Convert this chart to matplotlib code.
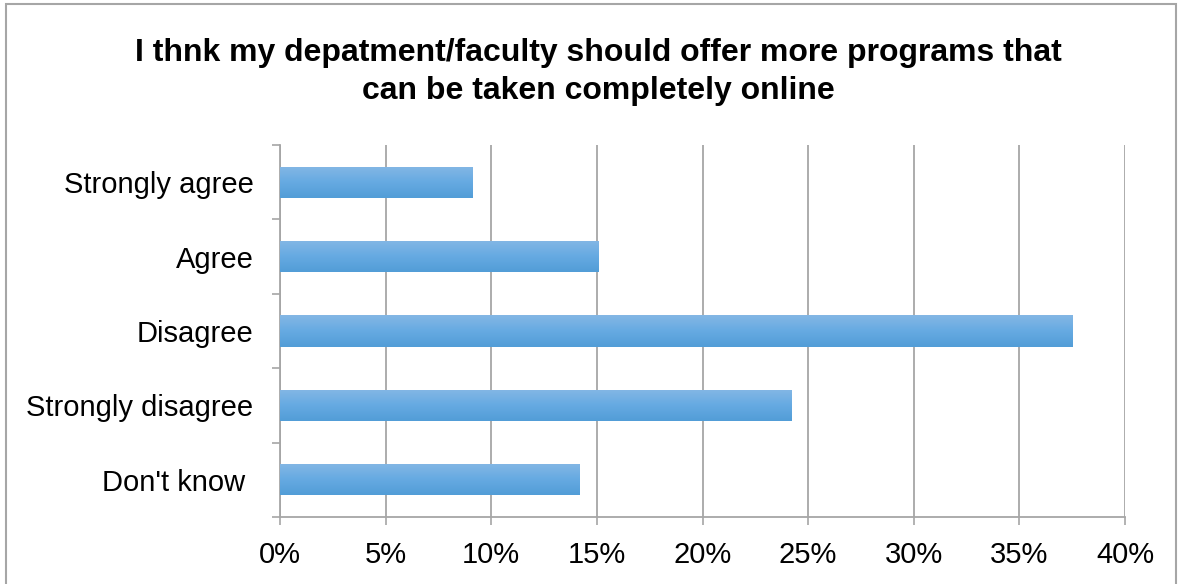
import numpy as np
import matplotlib
matplotlib.use('Agg')
import matplotlib.pyplot as plt
from matplotlib.colors import LinearSegmentedColormap
from matplotlib.patches import Rectangle

# 数据
categories = ['Strongly agree', 'Agree', 'Disagree', 'Strongly disagree', "Don't know "]
values = [9.1, 15.1, 37.5, 24.2, 14.2]
xticks = [0, 5, 10, 15, 20, 25, 30, 35, 40]
title = 'I thnk my depatment/faculty should offer more programs that\ncan be taken completely online'

plt.rcParams['font.family'] = ['Liberation Sans', 'DejaVu Sans']
grey = '#a6a6a6'

fig = plt.figure(figsize=(11.79, 5.84), dpi=100)
ax = fig.add_axes([280 / 1179, 1 - 517 / 584, (1125 - 280) / 1179, (517 - 145) / 584])

y = np.arange(len(categories))
bars = ax.barh(y, values, height=0.42, color='#6aabe0', zorder=3)

# 渐变填充
cmap = LinearSegmentedColormap.from_list('blu', ['#84b7e5', '#66aae2', '#529dd7'])
grad = np.linspace(0, 1, 100).reshape(-1, 1)
for b in bars:
    x0, y0 = b.get_x(), b.get_y()
    w, h = b.get_width(), b.get_height()
    im = ax.imshow(grad, cmap=cmap, aspect='auto', extent=[x0, x0 + w, y0 + h, y0],
                   origin='upper', zorder=4)
    im.set_clip_path(b)

ax.set_xlim(0, 40)
ax.set_ylim(len(categories) - 0.5, -0.5)
ax.set_xticks(xticks)
ax.set_xticklabels([f'{t}%' for t in xticks])
ax.set_yticks(y)
ax.set_yticklabels(categories)
ax.set_yticks(np.arange(len(categories) + 1) - 0.5, minor=True)

ax.tick_params(axis='y', which='major', length=0, pad=19, labelsize=21)
ax.tick_params(axis='y', which='minor', length=6, width=1.2, color=grey, direction='out')
ax.tick_params(axis='x', which='major', length=6, width=1.2, color=grey, pad=11, labelsize=21)

ax.grid(axis='x', color=grey, linewidth=1.3, zorder=0)
ax.set_axisbelow(True)
for s in ['top', 'right']:
    ax.spines[s].set_visible(False)
for s in ['left', 'bottom']:
    ax.spines[s].set_color(grey)
    ax.spines[s].set_linewidth(1.3)

fig.text(598 / 1179, 1 - 72 / 584, title, ha='center', va='center',
         fontsize=23, fontweight='bold', linespacing=1.32)

# 外框
fig.patches.append(Rectangle((6 / 1179, -0.1), (1176 - 6) / 1179, 1.1 - 4 / 584,
                             transform=fig.transFigure, fill=False,
                             edgecolor=grey, linewidth=1.5))

plt.savefig('out.png', dpi=100)
